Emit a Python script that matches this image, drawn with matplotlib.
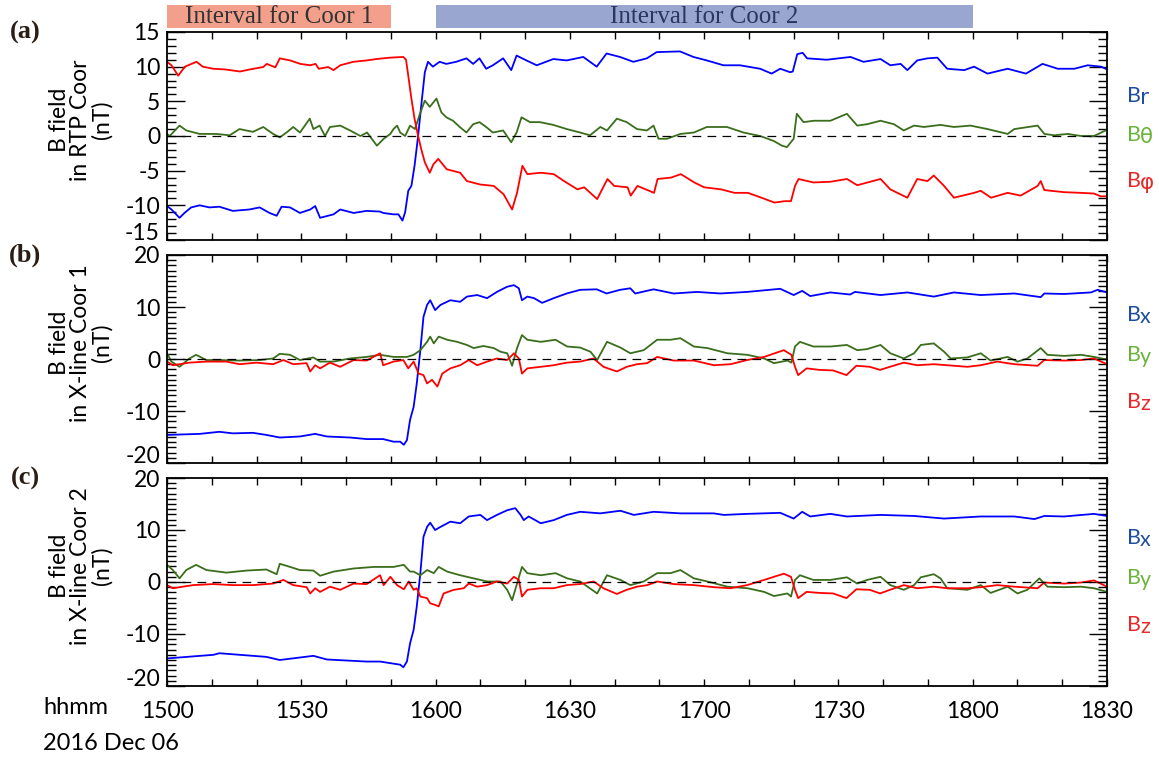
import numpy as np
import matplotlib
matplotlib.use("Agg")
import matplotlib.pyplot as plt
import matplotlib.transforms as mtransforms
from matplotlib.patches import Rectangle
from matplotlib.ticker import MultipleLocator, FuncFormatter

plt.rcParams['font.family'] = ['Lato', 'DejaVu Sans']
plt.rcParams['axes.unicode_minus'] = False

# time in minutes after 15:00 UT, field in nT
a_br = [(0, -10.1), (1, -10.6), (2.8, -11.8), (3.9, -11.1), (5.4, -10.3), (7.3, -10.0), (9.5, -10.3),
        (11.7, -10.2), (14.7, -10.8), (18.4, -10.6), (20.7, -10.3), (22.9, -11.1), (24.5, -11.5),
        (25.6, -10.2), (27.5, -10.3), (29.7, -11.1), (32, -10.6), (33.1, -10.1), (34.2, -11.8),
        (37.2, -11.3), (38.7, -10.6), (41.7, -11.1), (44.6, -10.8), (47.6, -10.9), (48.3, -11.1),
        (50.6, -11.3), (51.7, -11.3), (52.6, -12.2), (53.2, -11.0), (53.9, -7.9), (54.6, -7.2),
        (55.3, -4.3), (56.1, 0), (56.8, 4.4), (57.6, 9.2), (58.3, 10.7), (59.4, 10.0), (60.9, 10.7),
        (62.4, 10.4), (64.6, 10.7), (66.9, 11.2), (68.4, 10.4), (69.8, 11.2), (71.3, 9.7), (72.8, 10.2),
        (75.1, 11.2), (76.9, 9.5), (78.1, 11.6), (80.3, 10.9), (82.6, 10.2), (86.3, 11.1), (89.3, 10.9),
        (93, 11.4), (96, 10.0), (98.2, 11.9), (101.2, 11.4), (104.2, 10.7), (107.2, 11.2), (109.4, 12.1),
        (114.6, 12.2), (117.6, 11.4), (120.6, 10.9), (124.3, 10.2), (128, 10.2), (132.5, 9.7),
        (135.1, 9.0), (137, 9.7), (139.2, 9.2), (139.8, 9.3), (140.8, 11.8), (142, 12.0), (143, 11.2),
        (147.4, 11.0), (152.7, 11.4), (155.6, 10.7), (159.4, 11.1), (161.6, 10.2), (163.9, 10.4),
        (165.4, 9.5), (167.6, 10.9), (169.9, 11.2), (172.1, 11.3), (174.3, 9.7), (178.1, 9.5),
        (180.3, 10.0), (183.3, 9.0), (187.8, 9.7), (191.9, 9.0), (195.6, 10.4), (199, 9.7),
        (202.7, 9.7), (205.7, 10.2), (208.7, 10.0), (210, 9.6)]
a_bth = [(0, 0.3), (0.6, 0), (2.8, 1.5), (4.3, 0.8), (7.3, 0.3), (11, 0.3), (14, 0.1), (16.2, 1.0),
         (19.2, 0.6), (21.5, 1.3), (23.7, 0.3), (25.2, -0.2), (26.7, 0.5), (28.2, 1.3), (29.7, 0.5),
         (31.9, 2.5), (32.7, 1.0), (34.1, 1.5), (35.3, 0), (36.4, 1.3), (38.7, 1.5), (40.9, 0.8),
         (43.2, 0), (44.7, 0.5), (46.9, -1.4), (48.4, -0.4), (49.9, 0.3), (50.6, 1.0), (51.4, 1.5),
         (52.1, 0.5), (53.2, 0), (54.3, 1.5), (55.4, 1.0), (56.5, 3.2), (57.6, 5.1), (58.7, 4.2),
         (60.2, 5.4), (61.3, 3.4), (62.4, 2.7), (63.9, 2.2), (65.4, 1.3), (66.9, 0.5), (68.4, 1.7),
         (69.8, 2.0), (71.3, 1.3), (72.8, 0.5), (75.1, 0.8), (76.9, -0.9), (78.1, 0.5), (79.2, 2.7),
         (81.1, 2.0), (83.3, 2.0), (86.3, 1.6), (89.3, 1.0), (92.3, 0.5), (94.5, 0.1), (96.8, 1.3),
         (98.3, 0.8), (100.5, 2.5), (102.7, 2.0), (105, 1.0), (107.2, 0.8), (108.7, 1.5), (109.8, -0.4),
         (111.7, -0.4), (114.7, 0.3), (117.7, 0.5), (120.6, 1.3), (125.1, 1.3), (128.8, 0.5), (132.5, 0),
         (135.5, -0.7), (137.4, -1.4), (138.5, -1.6), (140, -0.4), (140.7, 3.2), (142.2, 2.0),
         (144.5, 2.2), (148.2, 2.2), (151.9, 3.2), (154.2, 1.5), (156.4, 1.7), (159.4, 2.2),
         (162.4, 1.7), (164.6, 0.8), (166.9, 1.5), (169.1, 1.3), (172.8, 1.6), (175.8, 1.3),
         (179.5, 1.5), (183.3, 1.0), (187.8, 0.3), (189.3, 1.0), (194.5, 1.5), (196, 0.3), (198.2, 0.1),
         (201.2, 0.3), (204.2, 0), (207.1, 0), (210, 0.9)]
a_bph = [(0, 10.7), (1, 10.2), (2.5, 8.7), (4, 10.0), (6.6, 10.7), (8, 10.0), (10.3, 9.7), (13, 9.6),
         (16.3, 9.3), (18.5, 9.6), (21.5, 9.95), (22.3, 10.4), (24.2, 9.9), (25.2, 11.2), (27.5, 10.9),
         (29.8, 10.4), (32, 10.2), (33.2, 10.4), (33.9, 9.7), (36, 9.95), (37.2, 9.5), (38.7, 10.2),
         (41.6, 10.7), (44.6, 10.9), (46.8, 11.1), (49.8, 11.3), (52.8, 11.4), (53.4, 11.0), (53.9, 8.7),
         (54.6, 5.4), (55.3, 2.5), (56.1, 0), (56.8, -1.9), (57.6, -3.8), (58.7, -5.3), (59.5, -4.1),
         (60.6, -3.3), (62.5, -4.8), (65.5, -5.3), (67, -6.5), (70, -7.0), (73, -7.2), (75.2, -8.4),
         (77.1, -10.6), (78.2, -8.2), (79.4, -4.3), (80.5, -5.5), (83.5, -5.3), (86.4, -5.5),
         (88.7, -6.5), (91.7, -7.7), (93.2, -7.4), (96.1, -9.1), (98.4, -6.2), (99.9, -7.2),
         (102.9, -7.4), (103.6, -8.6), (105.1, -7.2), (108.8, -8.2), (109.6, -6.2), (112.6, -6.0),
         (114.8, -5.5), (117.8, -6.7), (120, -7.4), (123.8, -7.7), (126.8, -8.2), (129.8, -8.2),
         (132.8, -8.9), (135.7, -9.6), (138, -9.4), (139.4, -9.4), (140.3, -7.2), (141.1, -6.2),
         (144.4, -6.7), (148.2, -6.6), (151.9, -6.2), (154.2, -7.1), (159.4, -6.2), (161.6, -7.7),
         (165.4, -8.9), (167.6, -6.2), (169.9, -6.5), (171.3, -5.7), (173.6, -7.2), (175.8, -8.9),
         (180.3, -8.2), (181.8, -7.9), (184.1, -8.9), (187.8, -8.2), (190.7, -8.6), (194.5, -7.2),
         (195.2, -6.5), (196, -7.8), (200.4, -8.1), (204.2, -8.2), (207.1, -8.3), (208.6, -8.7),
         (210, -8.7)]

b_bx = [(0, -14.6), (7.3, -14.4), (11.7, -14.0), (14.7, -14.3), (19.2, -14.2), (22.2, -14.6),
        (25.2, -15.1), (29.7, -14.9), (33.1, -14.4), (35.7, -14.9), (40.9, -15.1), (44.6, -15.4),
        (48.3, -15.4), (50.6, -15.9), (52.1, -15.9), (52.9, -16.5), (53.6, -15.6), (54.3, -11.7),
        (55.1, -9.2), (55.8, -4.7), (56.6, 1.7), (57.3, 8.1), (58.1, 10.4), (58.8, 11.3), (59.9, 9.4),
        (61.1, 10.4), (63.3, 11.3), (65.5, 11.0), (67, 12.0), (69.3, 12.3), (71.5, 11.7), (73.7, 12.9),
        (76, 13.9), (77.5, 14.2), (78.6, 13.6), (79.3, 11.3), (80.5, 12.0), (82, 11.7), (83.8, 10.8),
        (86.4, 11.7), (89.3, 12.6), (92.3, 13.3), (96, 13.4), (98.2, 12.6), (101.2, 13.3), (103.5, 13.6),
        (104.6, 12.6), (108.7, 13.4), (113.2, 12.6), (118.4, 12.9), (123.6, 12.6), (129.6, 12.9),
        (137, 13.5), (140, 12.3), (141.9, 13.1), (143.7, 12.1), (148.2, 12.8), (152.6, 12.4),
        (153.7, 12.9), (159.4, 12.3), (165.4, 12.8), (171.3, 12.0), (175.8, 12.8), (181.8, 12.3),
        (189.3, 12.6), (195.2, 11.9), (196, 12.6), (200.4, 12.5), (206.4, 12.8), (207.9, 13.3),
        (210, 12.8)]
b_by = [(0, 1.1), (1, -0.5), (2.8, -1.5), (5, 0.1), (6.5, 0.8), (8.8, -0.2), (11.7, -0.2), (16.2, -0.3),
        (20.7, -0.2), (23.7, 0.1), (25.2, 1.0), (27.5, 0.8), (29.7, -0.2), (32.7, 0.3), (34.2, -0.5),
        (37.2, -0.5), (40.9, 0.1), (44.6, 0.4), (47.6, 0.8), (50.6, 0.4), (53.6, 0.4), (55.1, 0.8),
        (56.6, 1.7), (58.1, 3.3), (58.8, 4.3), (59.6, 3.0), (60.7, 4.3), (62.6, 3.7), (64.8, 3.3),
        (67, 2.7), (68.5, 2.1), (70.7, 2.5), (73, 2.1), (74.5, 1.4), (76, 1.1), (77.1, -1.3), (78.2, 2.1),
        (79.3, 4.6), (80.5, 3.7), (83.5, 3.3), (86.8, 3.7), (89.4, 2.4), (92.3, 2.2), (94.6, 1.4),
        (96.1, -0.2), (98.3, 3.3), (101.3, 2.2), (103.5, 1.1), (106.5, 1.7), (109.5, 3.7), (112.5, 3.7),
        (114.7, 4.0), (117.7, 2.4), (120.7, 2.1), (125.2, 1.1), (129.7, 0.8), (133.4, 0.1),
        (135.6, -0.8), (138.6, -0.3), (139.5, -0.7), (140.3, 2.4), (141.4, 3.3), (144.4, 2.4),
        (148.2, 2.4), (151.9, 2.7), (154.2, 1.7), (156.4, 1.9), (159.4, 2.7), (161.6, 1.1), (164.6, 0.1),
        (166.9, 1.1), (168.4, 2.7), (171.3, 3.0), (173.6, 1.4), (175.1, 0.1), (178.8, 0.3), (181.8, 1.1),
        (184, -0.3), (187.8, 0.4), (190, -0.5), (192.2, 0.1), (195.2, 2.1), (196.7, 0.8), (200.4, 0.6),
        (204.2, 0.8), (207.1, 0.4), (210, -0.1)]
b_bz = [(0, -0.5), (1.3, -1.2), (2.8, -1.0), (5, -0.7), (8.8, -0.5), (13.3, -0.5), (16.2, -1.0),
        (20, -0.7), (23.7, -1.0), (26, -0.2), (28.2, -1.0), (31.2, -0.8), (32, -2.4), (33.1, -1.2),
        (34.2, -1.8), (36.4, -0.7), (38.7, -1.5), (41.7, -0.2), (44.6, -0.3), (47.6, 1.1), (48.3, -1.2),
        (50.6, -0.5), (52.8, -0.2), (53.9, -1.8), (55.1, -0.5), (56.2, -2.8), (57.3, -3.1), (58.1, -4.7),
        (59.2, -4.0), (60.4, -5.3), (61.5, -2.8), (63.3, -1.8), (65.5, -1.2), (67.4, -0.2), (69.3, -1.2),
        (71.5, -0.5), (73.7, 0.1), (76, -0.2), (77.5, 1.1), (78.6, 0.1), (79.3, -2.8), (80.5, -1.8),
        (83.5, -1.5), (86.4, -1.2), (89.3, -0.7), (92.3, -0.5), (95.3, 0.1), (97.5, -1.5), (100.5, -2.4),
        (102.7, -1.5), (105, -1.0), (107.3, -0.8), (109.5, 0.4), (113.2, -0.3), (117.7, -0.3),
        (122.2, -1.2), (125.9, -1.0), (129.6, -0.2), (133.4, 0.4), (137.8, 1.7), (139.5, 0.8),
        (140.3, -1.5), (141, -3.1), (142.9, -1.8), (145.8, -2.1), (148.8, -2.2), (151.8, -3.1),
        (154, -1.3), (157, -1.5), (159.3, -2.1), (161.5, -1.5), (164.6, -0.7), (167.6, -1.2),
        (171.3, -1.0), (174.3, -1.2), (178.8, -1.5), (181.8, -1.2), (185.5, -0.5), (189.3, -1.0),
        (194.5, -1.3), (196, -0.2), (200.4, -0.3), (204.2, -0.2), (207.1, 0.1), (210, -1.0)]

c_bx = [(0, -14.7), (10.4, -14.0), (11.7, -13.7), (22.2, -14.4), (25.2, -15.0), (32.7, -14.2),
        (35.7, -14.9), (44.6, -15.3), (47.6, -15.3), (52.1, -15.9), (52.8, -16.4), (53.6, -15.3),
        (54.3, -11.8), (55.1, -9.2), (55.8, -4.7), (56.6, 1.7), (57.3, 8.7), (58.1, 10.6), (58.8, 11.4),
        (59.9, 10.0), (61.1, 10.6), (63.3, 11.6), (65.5, 11.3), (67.4, 12.6), (70, 12.9), (71.5, 11.9),
        (73.7, 12.9), (76, 13.8), (77.8, 14.2), (79, 12.9), (79.7, 11.9), (80.8, 12.6), (83.5, 11.3),
        (86.4, 11.9), (89.3, 12.9), (92.3, 13.5), (96.8, 13.2), (101.3, 13.7), (104.3, 12.9),
        (108.7, 13.5), (114.7, 13.2), (122.1, 13.2), (124.4, 12.9), (129.6, 13.1), (137, 13.3),
        (140, 12.2), (141.9, 13.5), (143.7, 12.6), (148.2, 13.1), (151.9, 12.6), (159.4, 12.9),
        (166.9, 12.7), (173.6, 12.2), (181.8, 12.6), (189.3, 12.6), (193.8, 12.1), (196, 12.7),
        (200.4, 12.6), (207.1, 13.1), (210, 12.7)]
c_by = [(0, 3.3), (1.3, 2.3), (2.8, 0.7), (4.3, 2.3), (6.5, 3.3), (8.8, 2.3), (13.3, 1.8), (17.8, 2.2),
        (22.2, 2.4), (24.5, 1.5), (25.2, 3.5), (27.5, 2.9), (29.7, 2.3), (32.7, 2.2), (34.2, 1.2),
        (37.2, 2.0), (41.7, 2.6), (46.2, 2.9), (50.6, 2.9), (52.9, 3.3), (54.3, 2.0), (55.1, 2.0),
        (56.6, 1.3), (58.1, 2.3), (59.6, 1.7), (60.7, 2.9), (62.6, 2.0), (65.5, 1.3), (68.5, 0.7),
        (71.5, 0.1), (74.5, 0.1), (76, -1.5), (77.1, -3.5), (78.2, -0.3), (79.3, 2.9), (80.5, 1.7),
        (83.5, 1.3), (86.8, 1.7), (89.4, 0.7), (92.3, 0.1), (96.1, -2.2), (98.3, 1.3), (101.3, 0.4),
        (103.5, -0.6), (106.5, 0.1), (109.5, 1.7), (112.5, 1.7), (114.7, 2.3), (117.7, 0.7), (120.7, 0.1),
        (125.2, -0.9), (129.7, -1.2), (133.4, -1.9), (135.6, -2.7), (138.6, -2.2), (139.4, -2.8),
        (140.3, 0.4), (141.4, 1.3), (144.4, 0.4), (148.2, 0.4), (151.9, 0.9), (154.2, -0.3), (156.4, 0.4),
        (159.4, 1.0), (161.6, -0.6), (164.6, -1.5), (166.9, -0.6), (168.4, 0.9), (171.3, 1.5),
        (172.8, 0.7), (174.3, -1.2), (178.8, -1.5), (181.8, -0.6), (184, -2.1), (187.8, -0.9),
        (190, -2.2), (192.2, -1.5), (194.9, 0.7), (196.7, -0.9), (200.4, -1.0), (204.2, -0.9),
        (207.1, -1.2), (210, -1.9)]
c_bz = [(0, -0.6), (1.3, -1.2), (2.8, -1.0), (5.8, -0.6), (10.3, -0.4), (14.7, -0.6), (19.2, -0.6),
        (23.7, -0.3), (26, 0.4), (28.2, -0.6), (31.2, -1.0), (32, -2.2), (33.1, -1.2), (34.2, -1.9),
        (36.4, -0.9), (38.7, -1.5), (41.7, -0.3), (44.6, -0.4), (47.6, 1.3), (48.4, -0.6), (49.9, 1.0),
        (51.4, -0.6), (52.9, -1.4), (54, 0.1), (55.1, -1.5), (55.8, -1.2), (56.6, -2.8), (58.1, -3.1),
        (58.8, -4.1), (59.9, -4.4), (60.7, -4.7), (61.8, -2.2), (64.1, -1.5), (66.3, -1.2), (67.4, -0.3),
        (69.3, -0.9), (71.5, -0.6), (73.7, 0.1), (76, -0.3), (77.5, 1.0), (78.6, 0.4), (79.3, -2.8),
        (80.5, -1.5), (83.5, -1.2), (86.4, -1.2), (89.3, -0.6), (92.3, -0.4), (95.3, 0.1), (97.5, -1.2),
        (100.5, -2.3), (102.7, -1.5), (105, -0.9), (107.3, -0.6), (109.5, 0.1), (113.2, -0.4),
        (117.7, -0.6), (122.2, -1.0), (125.9, -1.2), (129.6, -0.6), (133.4, 0.4), (137.8, 1.6),
        (139.4, 1.0), (140.3, -1.5), (141, -3.1), (142.9, -1.9), (145.8, -2.1), (148.8, -2.2),
        (151.8, -3.1), (154, -1.4), (157, -1.5), (159.3, -2.2), (161.5, -1.5), (164.6, -0.6),
        (167.6, -1.2), (171.3, -0.9), (174.3, -1.2), (178.8, -1.2), (181.8, -1.0), (185.5, -0.6),
        (189.3, -0.9), (194.5, -1.2), (196, -0.1), (200.4, -0.3), (204.2, -0.1), (207.1, 0.3),
        (210, -0.9)]

xtick_pos = [0, 30, 60, 90, 120, 150, 180, 210]
xtick_lab = ["1500", "1530", "1600", "1630", "1700", "1730", "1800", "1830"]
intervals = [(0, 50, "Interval for Coor 1"), (60, 180, "Interval for Coor 2")]

line_cols = ["#0000ff", "#3a6e1c", "#ff0000"]
lab_cols = ["#1f4e9e", "#6cb33e", "#e8292b"]

panels = [
    ("(a)", "B field\nin RTP Coor\n(nT)", [a_br, a_bth, a_bph], ["r", "\u03b8", "\u03c6"], 15, 5),
    ("(b)", "B field\nin X-line Coor 1\n(nT)", [b_bx, b_by, b_bz], ["x", "y", "z"], 20, 10),
    ("(c)", "B field\nin X-line Coor 2\n(nT)", [c_bx, c_by, c_bz], ["x", "y", "z"], 20, 10),
]

W, H = 1159, 757
fig = plt.figure(figsize=(W / 100, H / 100), dpi=100)
tops = [32, 255, 478]
ax_h = 208
left, right = 167, 1107
# bottom y label sits a little higher than its tick, as in the original
lift = mtransforms.ScaledTranslation(-0.07, 0.07, fig.dpi_scale_trans)

axes = []
for i, (tag, ylab, series, subs, ylim, ystep) in enumerate(panels):
    top = tops[i]
    ax = fig.add_axes([left / W, 1 - (top + ax_h) / H, (right - left) / W, ax_h / H])
    axes.append(ax)
    for s, col in zip(series, line_cols):
        d = np.array(s)
        ax.plot(d[:, 0], d[:, 1], color=col, lw=1.3)
    ax.axhline(0, color="k", lw=0.9, dashes=(7, 5))
    ax.set_xlim(0, 210)
    ax.set_ylim(-ylim, ylim)
    ax.yaxis.set_major_locator(MultipleLocator(ystep))
    ax.yaxis.set_minor_locator(MultipleLocator(1))
    ax.yaxis.set_major_formatter(FuncFormatter(lambda v, p, lo=-ylim: "" if v <= lo else f"{v:g}"))
    ax.xaxis.set_major_locator(MultipleLocator(10))
    ax.tick_params(axis="y", which="major", direction="in", length=13, width=1, right=True,
                   labelsize=16.5, pad=5)
    ax.tick_params(axis="y", which="minor", direction="in", length=6.5, width=1, right=True)
    ax.tick_params(axis="x", which="major", direction="in", length=5, width=1, top=True,
                   labelbottom=False)
    for sp in ax.spines.values():
        sp.set_linewidth(1.3)
    ytr = mtransforms.blended_transform_factory(ax.transAxes, ax.transData)
    ax.text(0, -ylim, f"{-ylim:g}", transform=ytr + lift, ha="right", va="center",
            fontsize=16.5)

    cy = top + ax_h / 2
    fig.text(25 / W, 1 - (top + 0) / H, tag, fontsize=19, fontweight="bold",
             family="Liberation Serif", color="#2a1d14", ha="center", va="center")
    fig.text(81 / W, 1 - (cy - 16) / H, ylab, rotation=90, fontsize=16.5, ha="center",
             va="center", multialignment="center", linespacing=1.0)
    for k in range(3):
        ly = top + [64, 103, 149][k] if i == 0 else top + [60, 100, 147][k]
        fig.text(1127 / W, 1 - ly / H, "B", fontsize=15.5, color=lab_cols[k], ha="left",
                 va="center")
        fig.text(1140 / W, 1 - (ly + 2) / H, subs[k], fontsize=15.5, color=lab_cols[k],
                 ha="left", va="center", family=["DejaVu Sans"] if i == 0 else None)

# time labels on bottom panel
ax_c = axes[2]
ax_c.set_xticks(xtick_pos, xtick_lab)
ax_c.xaxis.set_minor_locator(MultipleLocator(10))
ax_c.tick_params(axis="x", which="major", labelbottom=True, labelsize=16.5, pad=11)
ax_c.tick_params(axis="x", which="minor", direction="in", length=5, width=1, top=True)
fig.text(43 / W, 1 - 708 / H, "hhmm", fontsize=17, ha="left", va="center")
fig.text(43 / W, 1 - 743 / H, "2016 Dec 06", fontsize=17, ha="left", va="center")

# interval bars above the top panel
ax_a = axes[0]
trans = mtransforms.blended_transform_factory(ax_a.transData, fig.transFigure)
bar_cols = ["#f2a08c", "#98a6d0"]
txt_cols = ["#333333", "#2c3560"]
for (t0, t1, label), bc, tc in zip(intervals, bar_cols, txt_cols):
    ax_a.add_patch(Rectangle((t0, 1 - 28 / H), t1 - t0, 23 / H, transform=trans,
                             facecolor=bc, edgecolor="none", clip_on=False))
    ax_a.text((t0 + t1) / 2, 1 - 17 / H, label, transform=trans, ha="center", va="center",
              fontsize=18, family="Liberation Serif", color=tc)

fig.savefig("out.png", dpi=100)
